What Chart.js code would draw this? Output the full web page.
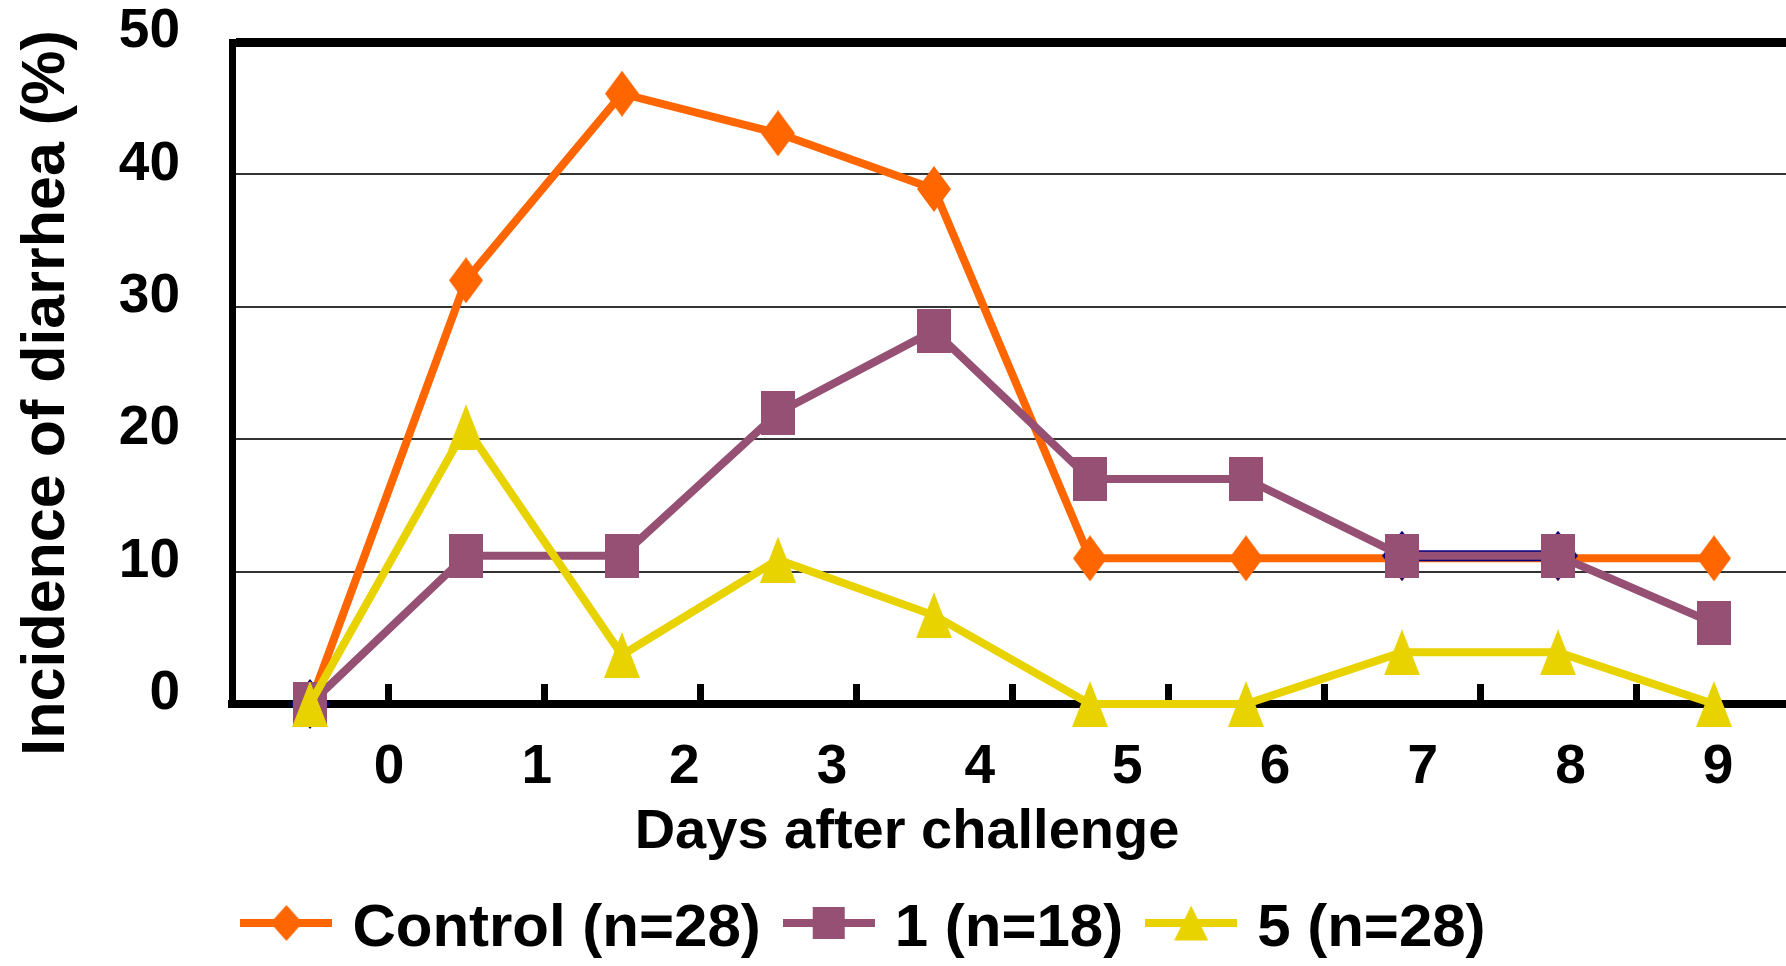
<!DOCTYPE html>
<html><head><meta charset="utf-8">
<script src="https://cdn.jsdelivr.net/npm/chart.js@4"></script>
<style>html,body{margin:0;padding:0;overflow:hidden;background:#fff}#wrap{width:1792px;height:969px}</style>
</head><body><div id="wrap"><canvas id="c" width="1792" height="969"></canvas></div>
<script>
// ---- data ----
const categories = ['0','1','2','3','4','5','6','7','8','9'];
const tickLabels = ['0','1','2','3','4','5','6','7','8','9'];
const yTicks = [0, 10, 20, 30, 40, 50];
const seriesNames = ['Control (n=28)', '1 (n=18)', '5 (n=28)'];
const control = [0, 32.0, 46.1, 43.1, 38.9, 11.0, 11.0, 11.0, 11.0, 11.0];
const group1  = [0, 11.2, 11.2, 22.0, 28.2, 17.0, 17.0, 11.2, 11.2, 6.1];
const group5  = [0, 20.9, 3.7, 10.9, 6.7, 0, 0, 3.9, 3.9, 0];
const unlabeled = [0, null, null, null, null, null, null, 11.2, 11.2, null];
const xTitle = 'Days after challenge';
const yTitle = 'Incidence of diarrhea (%)';

// ---- styles ----
const FONT = "'Liberation Sans', Arial, sans-serif";
const ORANGE = '#FF6600', PURPLE = '#955073', YELLOW = '#E8D300', NAVY = '#000080';

function drawShape(g, shape, cx, cy, w, h) {
  g.beginPath();
  if (shape === 'diamond') {
    g.moveTo(cx, cy - h / 2); g.lineTo(cx + w / 2, cy); g.lineTo(cx, cy + h / 2); g.lineTo(cx - w / 2, cy);
  } else if (shape === 'square') {
    g.rect(cx - w / 2, cy - h / 2, w, h);
  } else {
    g.moveTo(cx, cy - h / 2); g.lineTo(cx + w / 2, cy + h / 2); g.lineTo(cx - w / 2, cy + h / 2);
  }
  g.closePath(); g.fill();
}
function marker(shape, color, w, h) {
  const c = document.createElement('canvas'); c.width = w; c.height = h;
  const g = c.getContext('2d'); g.fillStyle = color; drawShape(g, shape, w / 2, h / 2, w, h);
  return c;
}
function legendIcon(shape, color, w, h) {
  const c = document.createElement('canvas'); c.width = 92; c.height = 48;
  const g = c.getContext('2d'); g.fillStyle = color;
  g.fillRect(0, 14, 92, 8);
  drawShape(g, shape, 46, 18, w, h);
  return c;
}
const legendIcons = [
  legendIcon('diamond', ORANGE, 32, 36),
  legendIcon('square', PURPLE, 32, 32),
  legendIcon('triangle', YELLOW, 34, 35)
];
const seriesColors = [ORANGE, PURPLE, YELLOW];

const nudge = {
  id: 'nudge',
  afterLayout(chart) {
    const lg = chart.legend; if (lg) { lg.left -= 28; lg.right -= 28; }
    const tb = chart.titleBlock; if (tb) { tb.left += 11; tb.right += 11; }
    const ys = chart.scales.y;
    if (ys && !ys._titleNudged) {
      const orig = ys.drawTitle;
      ys.drawTitle = function () {
        this.top += 20; this.bottom += 20;
        orig.call(this);
        this.top -= 20; this.bottom -= 20;
      };
      ys._titleNudged = true;
    }
  }
};

new Chart(document.getElementById('c'), {
  type: 'line',
  data: {
    labels: categories,
    datasets: [
      { label: seriesNames[0], data: control, borderColor: ORANGE, backgroundColor: ORANGE, borderWidth: 8,
        pointStyle: marker('diamond', ORANGE, 34, 46), order: 3, clip: false, tension: 0 },
      { label: seriesNames[1], data: group1, borderColor: PURPLE, backgroundColor: PURPLE, borderWidth: 8,
        pointStyle: marker('square', PURPLE, 34, 44), order: 1, clip: false, tension: 0 },
      { label: seriesNames[2], data: group5, borderColor: YELLOW, backgroundColor: YELLOW, borderWidth: 8,
        pointStyle: marker('triangle', YELLOW, 36, 46), order: 0, clip: false, tension: 0 },
      { label: '', data: unlabeled, borderColor: NAVY, backgroundColor: NAVY, borderWidth: 11,
        pointStyle: marker('diamond', NAVY, 40, 50), order: 2, clip: false, tension: 0, spanGaps: false }
    ]
  },
  options: {
    responsive: false,
    animation: false,
    events: [],
    layout: { autoPadding: false, padding: { top: 42, left: 0, right: 0, bottom: 0 } },
    font: { family: FONT },
    scales: {
      x: {
        type: 'category', position: 'bottom', weight: 0, offset: true,
        ticks: { display: false },
        grid: { display: true, offset: true, drawOnChartArea: false, drawTicks: true, tickLength: -20, tickWidth: 7, tickColor: '#000' },
        border: { display: true, width: 8, color: '#000' },
        afterFit: s => { s.height = 4; s.paddingLeft = 0; s.paddingRight = 0; }
      },
      x2: {
        type: 'linear', position: 'bottom', weight: 1, min: -1.063, max: 9.5,
        afterBuildTicks: s => { s.ticks = tickLabels.map(t => ({ value: Number(t) })); },
        ticks: { callback: (v, i) => tickLabels[i], autoSkip: false, maxRotation: 0, padding: 32,
                 color: '#000', font: { family: FONT, size: 55, weight: 'bold', lineHeight: 1 } },
        grid: { display: false, drawTicks: false },
        border: { display: false },
        afterFit: s => { s.height = 87; s.paddingLeft = 0; s.paddingRight = 0; }
      },
      y: {
        min: yTicks[0], max: yTicks[yTicks.length - 1],
        afterBuildTicks: s => { s.ticks = yTicks.map(v => ({ value: v })); },
        ticks: { padding: 52, labelOffset: -10, color: '#000',
                 font: { family: FONT, size: 55, weight: 'bold', lineHeight: 1 } },
        grid: { drawTicks: false,
                lineWidth: ctx => (ctx.tick && ctx.tick.value === 50) ? 9 : 2,
                color: ctx => (ctx.tick && ctx.tick.value === 50) ? '#000' : '#333' },
        border: { display: true, width: 7, color: '#000' },
        title: { display: true, text: yTitle, color: '#000', padding: { top: 16.5, bottom: 0 },
                 font: { family: FONT, size: 61, weight: 'bold', lineHeight: 1 } },
        afterFit: s => { s.width = 232; s.paddingTop = 0; s.paddingBottom = 0; }
      }
    },
    plugins: {
      tooltip: { enabled: false },
      title: { display: true, position: 'bottom', weight: 500, text: xTitle, color: '#000',
               padding: { top: 10, bottom: 6 },
               font: { family: FONT, size: 56, weight: 'bold', lineHeight: 1 } },
      legend: {
        display: true, position: 'bottom', weight: 1000,
        labels: {
          usePointStyle: true, pointStyleWidth: 72, padding: 32, color: '#000',
          font: { family: FONT, size: 60, weight: 'bold', lineHeight: 1 },
          generateLabels: () => seriesNames.map((name, i) => ({
            text: name, pointStyle: legendIcons[i], fillStyle: seriesColors[i], strokeStyle: seriesColors[i],
            lineWidth: 0, hidden: false, datasetIndex: i, fontColor: '#000'
          }))
        }
      }
    }
  },
  plugins: [nudge]
});
</script>
</body></html>
